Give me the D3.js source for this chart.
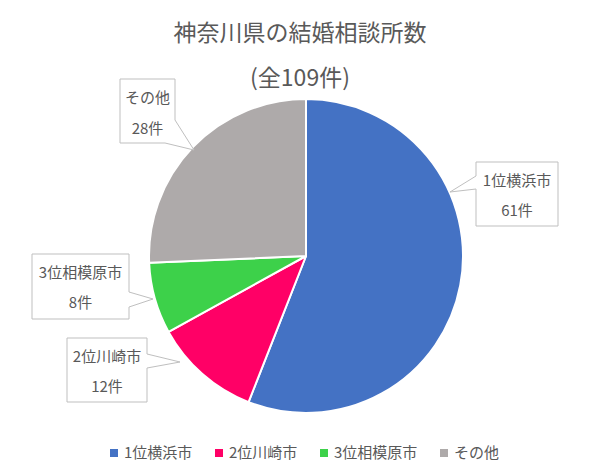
<!DOCTYPE html>
<html><head><meta charset="utf-8">
<script src="https://cdn.jsdelivr.net/npm/d3@7"></script>
<style>body{margin:0;background:#fff;} svg{display:block;}</style>
</head><body>
<svg id="c" width="600" height="476"></svg>
<script>
const categories = ["1位横浜市", "2位川崎市", "3位相模原市", "その他"];
const values = [61, 12, 8, 28];
const colors = ["#4472C4", "#FF0066", "#3DD14A", "#AEAAAA"];
const title = "神奈川県の結婚相談所数";
const subtitle = "(全109件)";
const unit = "件";

const svg = d3.select("#c");
const font = "'Noto Sans CJK JP', 'Noto Sans', sans-serif";
const textColor = "#595959";
const cx = 306, cy = 256, r = 157;

svg.append("text").attr("x", 300).attr("y", 41).attr("text-anchor", "middle")
  .attr("font-family", font).attr("font-size", 23).attr("fill", textColor).text(title);
svg.append("text").attr("x", 300).attr("y", 86).attr("text-anchor", "middle")
  .attr("font-family", font).attr("font-size", 23).attr("fill", textColor).text(subtitle);

const pie = d3.pie().sort(null).value(d => d)(values);
const arc = d3.arc().innerRadius(0).outerRadius(r);
const g = svg.append("g").attr("transform", `translate(${cx},${cy})`);
g.selectAll("path").data(pie).join("path")
  .attr("d", arc).attr("fill", (d, i) => colors[i])
  .attr("stroke", "#fff").attr("stroke-width", 2).attr("stroke-linejoin", "round");

// callouts (layout)
const callouts = [
  {i: 0, path: "M476,162 H558 V226 H476 V189 L450,192 L476,176 Z", x: 517, y1: 186, y2: 216},
  {i: 1, path: "M67,338 H147 V354 L180,362 L147,368 V402 H67 Z", x: 107, y1: 362, y2: 392},
  {i: 2, path: "M32,254 H129 V292 L153,299 L129,307 V319 H32 Z", x: 80.5, y1: 278, y2: 308},
  {i: 3, path: "M120,79 H175 V120 L194,150 L165,143 H120 Z", x: 147.5, y1: 103, y2: 134}
];
callouts.forEach(c => {
  svg.append("path").attr("d", c.path).attr("fill", "#fff").attr("stroke", "#BFBFBF").attr("stroke-width", 1);
  svg.append("text").attr("x", c.x).attr("y", c.y1).attr("text-anchor", "middle")
    .attr("font-family", font).attr("font-size", 15).attr("fill", textColor).text(categories[c.i]);
  svg.append("text").attr("x", c.x).attr("y", c.y2).attr("text-anchor", "middle")
    .attr("font-family", font).attr("font-size", 15).attr("fill", textColor).text(values[c.i] + unit);
});

// legend
const legX = [110, 215, 320, 440];
const lg = svg.append("g");
categories.forEach((c, i) => {
  lg.append("rect").attr("x", legX[i]).attr("y", 449).attr("width", 8).attr("height", 8).attr("fill", colors[i]);
  lg.append("text").attr("x", legX[i] + 14).attr("y", 458).attr("font-family", font)
    .attr("font-size", 15).attr("fill", textColor).text(c);
});
</script>
</body></html>
